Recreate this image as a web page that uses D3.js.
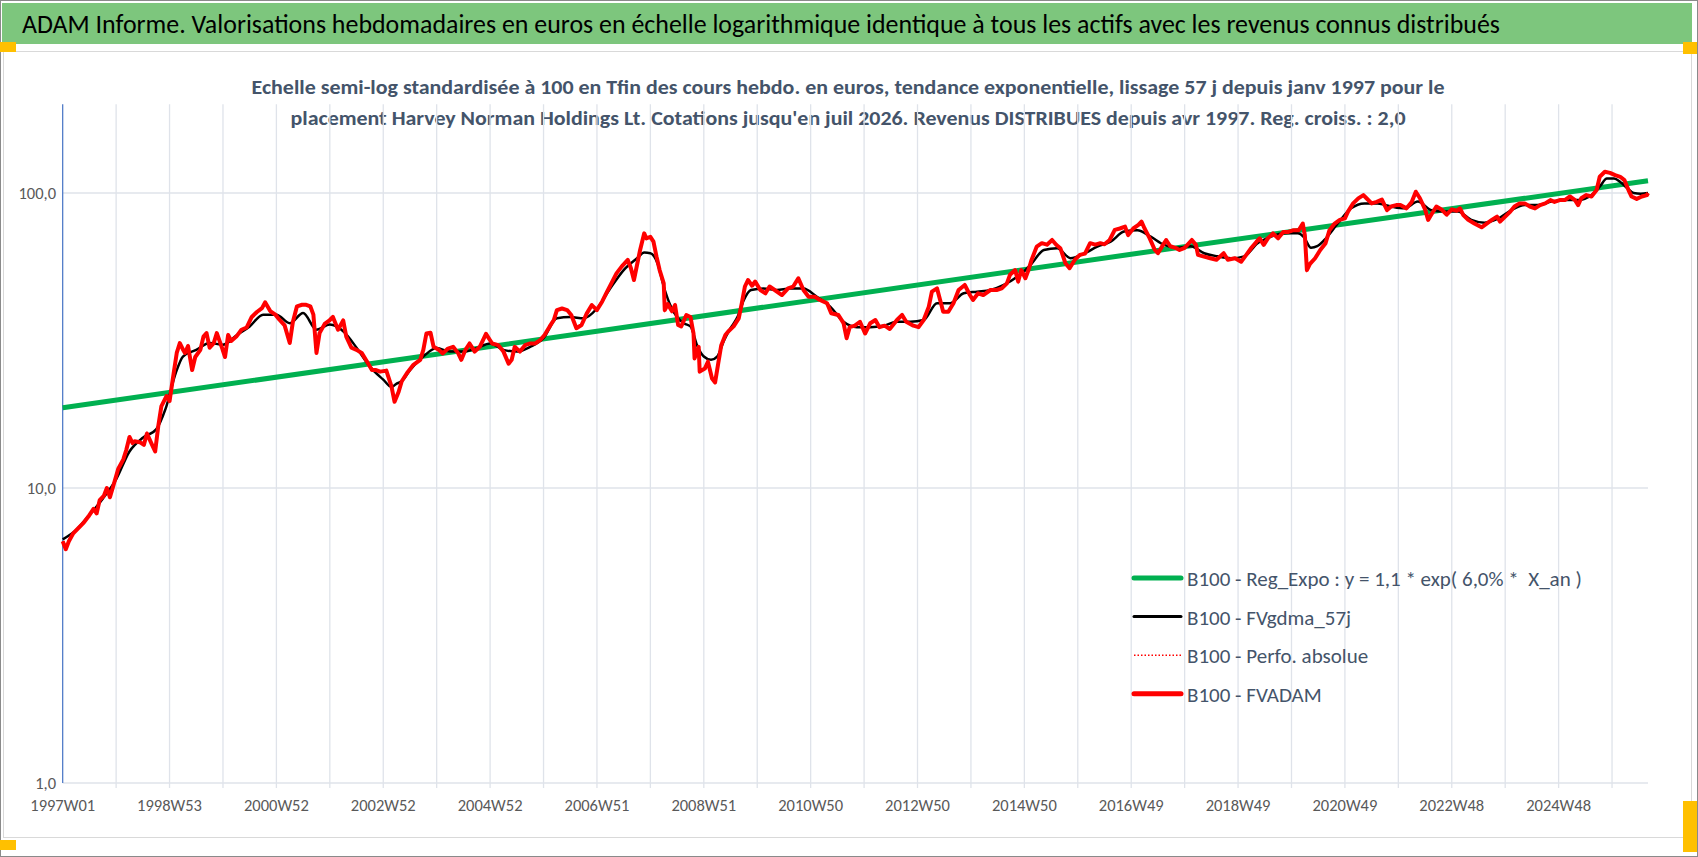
<!DOCTYPE html>
<html>
<head>
  <meta charset="UTF-8">
  <title>ADAM Informe - Harvey Norman Holdings</title>
  <style>
    body {
      margin: 0;
      background: #fff;
      overflow: hidden;
    }
    text {
      font-family: Carlito, Lato, "Liberation Sans Narrow", sans-serif;
    }
    .grid line {
      stroke: #dfe3ea;
      stroke-width: 1.3px;
    }
    .axis-label {
      font-size: 16.5px;
      fill: #595959;
    }
    .legend text {
      font-size: 21px;
      fill: #44546a;
      white-space: pre;
    }
  </style>
</head>
<body>

<svg id="chart"></svg>

<script src="https://d3js.org/d3.v7.min.js"></script>
<script>
// titles
const titleText = "ADAM Informe. Valorisations hebdomadaires en euros en échelle logarithmique identique à tous les actifs avec les revenus connus distribués";
const subtitleLines = [
  "Echelle semi-log standardisée à 100 en Tfin des cours hebdo. en euros, tendance exponentielle, lissage 57 j depuis janv 1997 pour le",
  "placement Harvey Norman Holdings Lt. Cotations jusqu'en juil 2026. Revenus DISTRIBUES depuis avr 1997. Reg. croiss. : 2,0"
];

// x axis: one category per week, 1997W01 = index 0
const lastWeek = 1543;
const tickLabels = ["1997W01", "1998W53", "2000W52", "2002W52", "2004W52", "2006W51", "2008W51",
  "2010W50", "2012W50", "2014W50", "2016W49", "2018W49", "2020W49", "2022W48", "2024W48"];
const tickLabelStep = 104;
const gridStep = 52;
const yTicks = [1, 10, 100];

// B100 - FVADAM (red)
const fvadamWeeks = [0, 3, 6, 10, 15, 20, 25, 30, 33, 36, 40, 43, 46, 49, 54, 59, 62, 65, 68, 70, 75, 79, 82, 85, 87, 90,
  93, 96, 101, 104, 108, 111, 114, 117, 119, 122, 126, 129, 134, 137, 140, 143, 147, 150, 155, 158, 161, 164, 169,
  174, 179, 184, 189, 194, 197, 202, 207, 211, 216, 221, 224, 228, 233, 237, 241, 244, 247, 250, 255, 260, 263, 268,
  273, 276, 281, 286, 291, 296, 301, 305, 309, 315, 320, 323, 327, 330, 335, 341, 348, 351, 354, 358, 361, 366, 370,
  375, 380, 385, 388, 392, 396, 401, 406, 412, 418, 424, 429, 434, 437, 440, 445, 450, 455, 460, 465, 469, 474, 478,
  481, 486, 491, 495, 500, 505, 510, 515, 520, 525, 529, 534, 539, 544, 550, 553, 556, 559, 562, 566, 568, 572, 575,
  578, 581, 585, 586, 589, 593, 596, 599, 602, 607, 611, 614, 615, 619, 620, 625, 628, 632, 635, 638, 641, 645, 648,
  653, 658, 661, 664, 667, 671, 674, 679, 684, 688, 693, 700, 706, 711, 716, 721, 726, 732, 737, 744, 748, 755, 760,
  763, 766, 771, 776, 781, 786, 791, 795, 800, 805, 812, 817, 821, 828, 833, 838, 843, 846, 851, 854, 857, 862, 867,
  872, 878, 883, 886, 891, 896, 903, 909, 914, 919, 922, 927, 930, 933, 937, 940, 943, 948, 953, 958, 963, 967, 971,
  976, 980, 985, 990, 995, 1000, 1005, 1010, 1014, 1019, 1024, 1029, 1034, 1037, 1042, 1047, 1050, 1053, 1058, 1063,
  1066, 1071, 1074, 1078, 1083, 1087, 1092, 1099, 1103, 1105, 1110, 1117, 1123, 1130, 1134, 1141, 1147, 1152, 1157,
  1162, 1165, 1169, 1173, 1178, 1183, 1188, 1193, 1198, 1203, 1207, 1209, 1211, 1214, 1219, 1224, 1229, 1233, 1238,
  1243, 1248, 1251, 1256, 1261, 1266, 1269, 1274, 1279, 1284, 1289, 1293, 1298, 1302, 1308, 1313, 1317, 1321, 1326,
  1329, 1332, 1337, 1342, 1347, 1352, 1357, 1360, 1363, 1368, 1374, 1381, 1386, 1391, 1396, 1399, 1404, 1409, 1413,
  1418, 1423, 1428, 1433, 1438, 1443, 1448, 1452, 1457, 1462, 1467, 1472, 1475, 1478, 1483, 1488, 1493, 1496, 1501,
  1506, 1511, 1516, 1520, 1524, 1527, 1532, 1537, 1542, 1543];
const fvadamValues = [6.6, 6.2, 6.6, 7.0, 7.3, 7.6, 8.0, 8.5, 8.2, 9.1, 9.4, 10.0, 9.3, 10.1, 11.6, 12.5, 13.5, 14.9, 14.2,
  14.4, 14.3, 14.0, 15.3, 14.5, 14.0, 13.3, 16.2, 18.9, 20.5, 19.7, 24.5, 28.7, 31.0, 29.5, 28.7, 30.3, 25.1, 27.8,
  29.4, 32.6, 33.5, 29.9, 31.0, 33.5, 29.9, 27.8, 33.0, 31.5, 32.6, 34.4, 35.0, 38.0, 39.5, 40.7, 42.6, 39.8, 38.7,
  37.2, 35.6, 31.0, 36.5, 41.3, 41.8, 41.8, 41.3, 38.7, 28.7, 33.5, 36.0, 37.1, 38.0, 34.4, 37.0, 32.6, 29.9, 29.4,
  28.7, 26.9, 25.1, 25.1, 24.8, 25.0, 22.1, 19.6, 21.2, 23.0, 24.5, 26.1, 27.2, 29.4, 33.4, 33.6, 30.1, 29.4, 28.6,
  29.7, 30.1, 28.6, 27.2, 29.4, 30.9, 29.0, 30.1, 33.3, 30.9, 30.5, 29.0, 26.4, 27.2, 30.1, 29.0, 30.5, 30.9, 30.9,
  31.8, 33.0, 35.3, 37.1, 40.1, 40.6, 40.1, 38.6, 34.8, 35.7, 39.0, 41.7, 40.1, 42.8, 45.7, 49.4, 53.4, 56.3, 59.3,
  55.7, 50.7, 57.0, 64.1, 73.0, 70.2, 71.0, 68.4, 60.8, 54.8, 49.4, 40.1, 42.0, 39.7, 41.7, 35.7, 35.3, 38.6, 38.0,
  33.4, 27.5, 30.1, 24.8, 25.4, 26.8, 23.5, 22.8, 26.4, 30.5, 33.0, 34.0, 35.3, 37.6, 42.3, 48.2, 50.7, 48.5, 50.1,
  46.9, 45.7, 48.2, 46.9, 45.1, 47.5, 48.2, 51.4, 46.9, 44.5, 44.5, 43.4, 42.3, 39.1, 38.6, 36.2, 32.2, 35.1, 35.5,
  36.6, 33.4, 36.2, 37.1, 35.1, 35.5, 34.6, 37.1, 38.6, 36.6, 35.5, 35.1, 37.1, 41.2, 46.3, 47.5, 43.4, 39.6, 39.6,
  42.3, 46.9, 48.8, 45.1, 43.4, 45.7, 45.1, 46.9, 46.9, 47.5, 49.4, 52.8, 54.8, 50.1, 54.8, 51.4, 54.8, 59.3, 65.8,
  67.6, 66.8, 69.3, 66.8, 65.0, 57.8, 55.6, 59.3, 61.7, 62.3, 67.6, 66.8, 67.6, 67.0, 69.3, 75.0, 75.8, 76.9, 72.0,
  75.8, 78.0, 80.0, 75.8, 70.2, 64.1, 62.5, 66.7, 69.3, 66.0, 65.2, 64.1, 65.2, 69.3, 66.7, 61.7, 61.0, 60.1, 59.4,
  62.5, 59.4, 60.1, 58.5, 61.7, 65.2, 68.4, 70.2, 66.7, 70.2, 73.0, 70.2, 73.8, 73.8, 74.8, 74.8, 78.8, 72.0, 54.8,
  57.5, 60.1, 64.1, 67.4, 74.8, 78.8, 81.1, 82.0, 86.5, 92.2, 95.9, 98.4, 96.0, 92.2, 93.3, 95.0, 87.5, 90.0, 91.0,
  91.0, 88.7, 93.3, 101.0, 96.0, 88.0, 81.1, 84.4, 90.0, 88.0, 84.4, 88.0, 87.1, 88.7, 84.4, 81.1, 78.8, 76.5, 78.8,
  81.1, 83.2, 80.0, 83.2, 86.5, 90.0, 92.2, 92.2, 90.0, 88.7, 91.0, 92.2, 94.6, 93.3, 94.6, 94.6, 97.3, 94.6, 91.0,
  96.0, 98.4, 97.3, 102.3, 113.5, 118.0, 117.0, 115.0, 113.5, 110.6, 102.3, 97.3, 95.5, 97.3, 98.4, 100.0];

// B100 - FVgdma_57j (black, smoothed)
const gdmaWeeks = [0, 13, 26, 39, 52, 65, 78, 91, 100, 110, 117, 130, 143, 156, 169, 182, 195, 208, 221, 234, 247, 260,
  273, 286, 299, 312, 320, 325, 330, 338, 351, 364, 377, 390, 403, 416, 429, 442, 455, 468, 481, 494, 507, 520, 533,
  546, 559, 566, 572, 579, 585, 592, 598, 605, 611, 618, 624, 631, 637, 644, 650, 657, 663, 670, 682, 695, 708, 721,
  734, 747, 760, 773, 786, 799, 812, 825, 838, 851, 864, 877, 890, 903, 916, 929, 942, 955, 968, 981, 994, 1007, 1020,
  1033, 1046, 1059, 1072, 1085, 1098, 1111, 1124, 1137, 1150, 1163, 1176, 1189, 1202, 1208, 1215, 1221, 1228, 1241,
  1254, 1267, 1280, 1293, 1306, 1319, 1332, 1345, 1358, 1371, 1384, 1397, 1410, 1423, 1436, 1449, 1462, 1475, 1488,
  1496, 1503, 1510, 1516, 1523, 1529, 1536, 1543];
const gdmaValues = [6.7, 7.2, 8.1, 9.2, 10.7, 13.3, 14.8, 15.8, 18.5, 24.5, 27.9, 29.4, 31.0, 30.6, 32.9, 35.3, 38.7,
  38.7, 36.2, 39.2, 34.4, 35.8, 34.0, 29.9, 25.8, 23.3, 22.0, 22.6, 23.0, 25.1, 27.9, 29.8, 29.0, 29.0, 29.8, 30.9,
  29.4, 29.0, 30.1, 32.2, 37.6, 38.0, 37.6, 40.6, 47.5, 54.8, 60.1, 62.8, 62.5, 57.7, 48.2, 41.2, 38.0, 36.1, 35.3,
  30.1, 27.9, 27.2, 27.9, 31.8, 34.8, 38.1, 43.4, 46.9, 47.5, 46.9, 47.5, 47.5, 44.5, 41.2, 36.6, 35.1, 35.1, 35.5,
  36.6, 36.6, 37.1, 42.3, 42.3, 45.7, 46.3, 46.9, 48.8, 52.0, 57.0, 64.1, 65.0, 60.1, 62.3, 65.8, 68.4, 74.0, 74.8,
  71.1, 66.7, 65.2, 66.0, 62.5, 61.0, 60.1, 61.0, 67.5, 71.1, 73.0, 73.0, 70.9, 65.2, 66.0, 69.3, 78.8, 88.7, 92.2,
  92.2, 90.0, 88.7, 93.5, 87.5, 86.5, 86.5, 81.1, 79.3, 81.8, 87.5, 91.0, 91.0, 93.5, 94.6, 94.6, 98.4, 105.0, 112.0,
  112.0, 109.0, 103.7, 100.0, 99.5, 100.0];

// B100 - Reg_Expo (green), read at a few weeks
const regWeeks = [0, 520, 1040, 1543];
const regValues = [18.7, 34.0, 62.0, 110.0];

const legendLabels = [
  "B100 - Reg_Expo : y = 1,1 * exp( 6,0% *  X_an )",
  "B100 - FVgdma_57j",
  "B100 - Perfo. absolue",
  "B100 - FVADAM"
];

const width = 1698;
const height = 857;
const plot = { left: 62.7, right: 1648, top: 104.2, bottom: 783 };

const svg = d3.select("#chart")
  .attr("width", width)
  .attr("height", height);

// frame, title bar, chart area
svg.append("rect").attr("x", 0.5).attr("y", 0.5).attr("width", width - 1).attr("height", height - 1)
  .attr("fill", "#fff").attr("stroke", "#8a8a8a");
svg.append("rect").attr("x", 2).attr("y", 3).attr("width", 1690).attr("height", 41).attr("fill", "#7dc67d");
svg.append("rect").attr("x", 3.5).attr("y", 51.5).attr("width", 1688).attr("height", 786)
  .attr("fill", "#fff").attr("stroke", "#d9d9d9");

const handles = [[0, 42, 16, 10], [1683, 42, 14, 12], [0, 840, 16, 10], [1683, 801, 14, 51]];
svg.selectAll("rect.handle").data(handles).join("rect")
  .attr("class", "handle")
  .attr("x", d => d[0]).attr("y", d => d[1]).attr("width", d => d[2]).attr("height", d => d[3])
  .attr("fill", "#ffc000");

svg.append("text")
  .attr("x", 22).attr("y", 33)
  .attr("font-size", 26.5)
  .attr("fill", "#000")
  .attr("textLength", 1478).attr("lengthAdjust", "spacingAndGlyphs")
  .text(titleText);

const subLengths = [1193, 1115];
svg.selectAll("text.subtitle").data(subtitleLines).join("text")
  .attr("class", "subtitle")
  .attr("x", 848).attr("y", (d, i) => 94 + i * 30.5)
  .attr("text-anchor", "middle")
  .attr("font-size", 21).attr("font-weight", "bold")
  .attr("fill", "#44546a")
  .attr("textLength", (d, i) => subLengths[i]).attr("lengthAdjust", "spacingAndGlyphs")
  .text(d => d);

// scales
const x = d3.scaleLinear().domain([0, lastWeek]).range([plot.left, plot.right]);
const y = d3.scaleLog().domain([1, 200]).range([plot.bottom, plot.top]);

// grid
const grid = svg.append("g").attr("class", "grid");
grid.selectAll("line.v").data(d3.range(gridStep, lastWeek + 1, gridStep)).join("line")
  .attr("class", "v")
  .attr("x1", d => x(d)).attr("x2", d => x(d))
  .attr("y1", plot.top).attr("y2", plot.bottom + 5);
grid.selectAll("line.h").data(yTicks).join("line")
  .attr("class", "h")
  .attr("x1", plot.left).attr("x2", plot.right)
  .attr("y1", d => y(d)).attr("y2", d => y(d));

svg.append("line")
  .attr("x1", plot.left).attr("x2", plot.left)
  .attr("y1", plot.top).attr("y2", plot.bottom)
  .attr("stroke", "#4472c4").attr("stroke-width", 1.2);

// axis labels
svg.selectAll("text.ylab").data(yTicks).join("text")
  .attr("class", "axis-label ylab")
  .attr("x", 56).attr("y", d => y(d)).attr("dy", "0.35em")
  .attr("text-anchor", "end")
  .text(d => d3.format(".1f")(d).replace(".", ","));

svg.selectAll("text.xlab").data(tickLabels).join("text")
  .attr("class", "axis-label xlab")
  .attr("x", (d, i) => x(i * tickLabelStep)).attr("y", 811)
  .attr("text-anchor", "middle")
  .text(d => d);

// series
const toPoints = (weeks, values) => weeks.map((w, i) => [w, values[i]]);
const line = d3.line().x(d => x(d[0])).y(d => y(d[1]));

svg.append("path")
  .datum(toPoints(regWeeks, regValues))
  .attr("fill", "none").attr("stroke", "#00b050").attr("stroke-width", 5)
  .attr("d", line);

svg.append("path")
  .datum(toPoints(gdmaWeeks, gdmaValues))
  .attr("fill", "none").attr("stroke", "#000").attr("stroke-width", 2.5)
  .attr("d", line.curve(d3.curveMonotoneX));

line.curve(d3.curveLinear);

svg.append("path")
  .datum(toPoints(fvadamWeeks, fvadamValues))
  .attr("fill", "none").attr("stroke", "#ff0000").attr("stroke-width", 1.5)
  .attr("stroke-dasharray", "1.5,2")
  .attr("d", line);

svg.append("path")
  .datum(toPoints(fvadamWeeks, fvadamValues))
  .attr("fill", "none").attr("stroke", "#ff0000").attr("stroke-width", 4)
  .attr("stroke-linejoin", "round")
  .attr("d", line);

// legend
const legendStyles = [
  { color: "#00b050", width: 5, dash: null },
  { color: "#000", width: 3, dash: null },
  { color: "#ff0000", width: 1.5, dash: "1.5,2" },
  { color: "#ff0000", width: 5, dash: null }
];

const legend = svg.append("g").attr("class", "legend")
  .attr("transform", "translate(1133,578)");

const item = legend.selectAll("g").data(legendLabels).join("g")
  .attr("transform", (d, i) => `translate(0,${i * 38.6})`);

item.append("line")
  .attr("x1", 1).attr("x2", 48)
  .attr("stroke", (d, i) => legendStyles[i].color)
  .attr("stroke-width", (d, i) => legendStyles[i].width)
  .attr("stroke-dasharray", (d, i) => legendStyles[i].dash)
  .attr("stroke-linecap", (d, i) => legendStyles[i].dash ? "butt" : "round");

item.append("text")
  .attr("x", 54).attr("y", 8)
  .text(d => d);
</script>

</body>
</html>
